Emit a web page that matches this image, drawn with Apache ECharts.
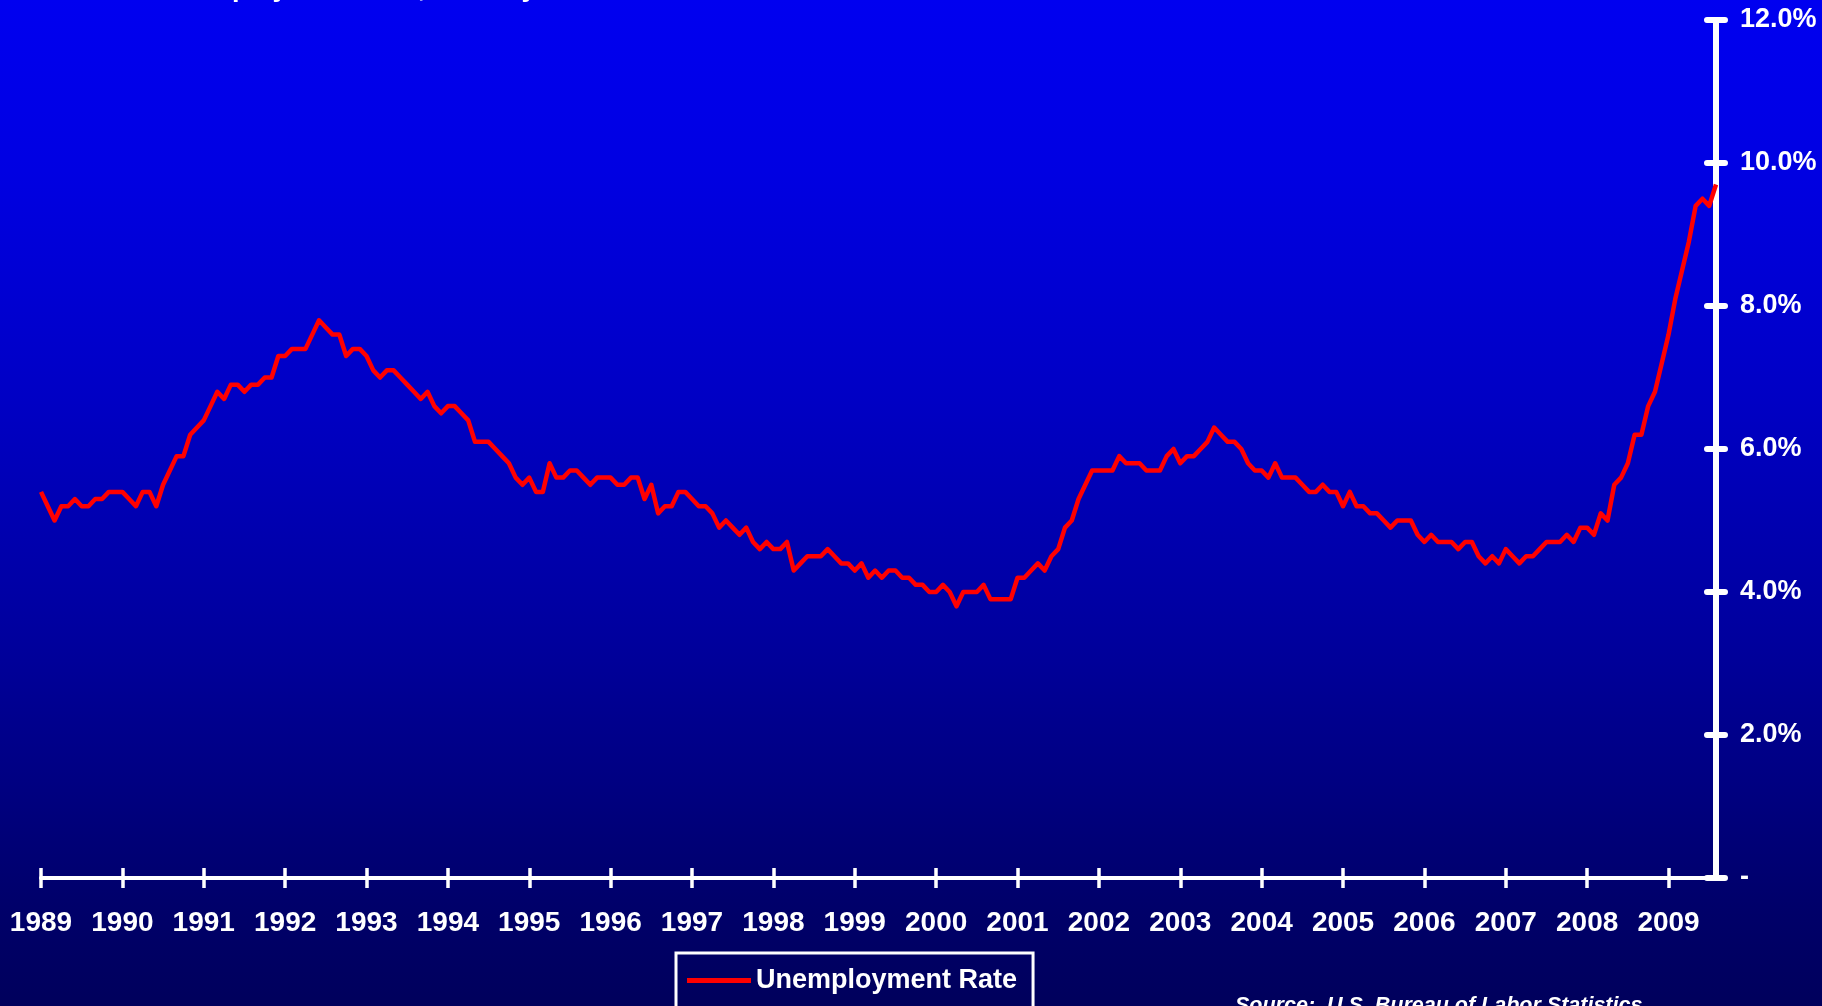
<!DOCTYPE html>
<html>
<head>
<meta charset="utf-8">
<title>Unemployment Rate, Monthly</title>
<script src="https://cdn.jsdelivr.net/npm/echarts@6/dist/echarts.min.js"></script>
<style>
  html, body { margin: 0; padding: 0; width: 1822px; height: 1006px; overflow: hidden; background: #00007a; }
  #chart { width: 1822px; height: 1006px; }
</style>
</head>
<body>
<div id="chart"></div>
<script>
// Monthly unemployment rate (%), January 1989 through August 2009.
const yearLabels = ['1989', '1990', '1991', '1992', '1993', '1994', '1995', '1996', '1997', '1998', '1999',
                    '2000', '2001', '2002', '2003', '2004', '2005', '2006', '2007', '2008', '2009'];
const monthNames = ['Jan', 'Feb', 'Mar', 'Apr', 'May', 'Jun', 'Jul', 'Aug', 'Sep', 'Oct', 'Nov', 'Dec'];

const unemploymentRate = [
  5.4, 5.2, 5.0, 5.2, 5.2, 5.3, 5.2, 5.2, 5.3, 5.3, 5.4, 5.4,   // 1989
  5.4, 5.3, 5.2, 5.4, 5.4, 5.2, 5.5, 5.7, 5.9, 5.9, 6.2, 6.3,   // 1990
  6.4, 6.6, 6.8, 6.7, 6.9, 6.9, 6.8, 6.9, 6.9, 7.0, 7.0, 7.3,   // 1991
  7.3, 7.4, 7.4, 7.4, 7.6, 7.8, 7.7, 7.6, 7.6, 7.3, 7.4, 7.4,   // 1992
  7.3, 7.1, 7.0, 7.1, 7.1, 7.0, 6.9, 6.8, 6.7, 6.8, 6.6, 6.5,   // 1993
  6.6, 6.6, 6.5, 6.4, 6.1, 6.1, 6.1, 6.0, 5.9, 5.8, 5.6, 5.5,   // 1994
  5.6, 5.4, 5.4, 5.8, 5.6, 5.6, 5.7, 5.7, 5.6, 5.5, 5.6, 5.6,   // 1995
  5.6, 5.5, 5.5, 5.6, 5.6, 5.3, 5.5, 5.1, 5.2, 5.2, 5.4, 5.4,   // 1996
  5.3, 5.2, 5.2, 5.1, 4.9, 5.0, 4.9, 4.8, 4.9, 4.7, 4.6, 4.7,   // 1997
  4.6, 4.6, 4.7, 4.3, 4.4, 4.5, 4.5, 4.5, 4.6, 4.5, 4.4, 4.4,   // 1998
  4.3, 4.4, 4.2, 4.3, 4.2, 4.3, 4.3, 4.2, 4.2, 4.1, 4.1, 4.0,   // 1999
  4.0, 4.1, 4.0, 3.8, 4.0, 4.0, 4.0, 4.1, 3.9, 3.9, 3.9, 3.9,   // 2000
  4.2, 4.2, 4.3, 4.4, 4.3, 4.5, 4.6, 4.9, 5.0, 5.3, 5.5, 5.7,   // 2001
  5.7, 5.7, 5.7, 5.9, 5.8, 5.8, 5.8, 5.7, 5.7, 5.7, 5.9, 6.0,   // 2002
  5.8, 5.9, 5.9, 6.0, 6.1, 6.3, 6.2, 6.1, 6.1, 6.0, 5.8, 5.7,   // 2003
  5.7, 5.6, 5.8, 5.6, 5.6, 5.6, 5.5, 5.4, 5.4, 5.5, 5.4, 5.4,   // 2004
  5.2, 5.4, 5.2, 5.2, 5.1, 5.1, 5.0, 4.9, 5.0, 5.0, 5.0, 4.8,   // 2005
  4.7, 4.8, 4.7, 4.7, 4.7, 4.6, 4.7, 4.7, 4.5, 4.4, 4.5, 4.4,   // 2006
  4.6, 4.5, 4.4, 4.5, 4.5, 4.6, 4.7, 4.7, 4.7, 4.8, 4.7, 4.9,   // 2007
  4.9, 4.8, 5.1, 5.0, 5.5, 5.6, 5.8, 6.2, 6.2, 6.6, 6.8, 7.2,   // 2008
  7.6, 8.1, 8.5, 8.9, 9.4, 9.5, 9.4, 9.7                        // 2009
];

const rateTicks = [0, 2, 4, 6, 8, 10, 12];

// One category per month, "Jan 1989" ... "Aug 2009"
const monthCategories = [];
yearLabels.forEach(function (y) {
  monthNames.forEach(function (m) { monthCategories.push(m + ' ' + y); });
});
monthCategories.length = unemploymentRate.length;

const FONT = '"Liberation Sans", Arial, Helvetica, sans-serif';
const WHITE = '#ffffff';

const chart = echarts.init(document.getElementById('chart'), null, { renderer: 'canvas' });

const yearTick = function (idx) { return idx % 12 === 0; };

chart.setOption({
  animation: false,
  backgroundColor: {
    type: 'linear', x: 0, y: 0, x2: 0, y2: 1,
    colorStops: [
      { offset: 0.00, color: 'rgb(0,0,240)' },
      { offset: 0.17, color: 'rgb(0,0,226)' },
      { offset: 0.40, color: 'rgb(0,0,196)' },
      { offset: 0.62, color: 'rgb(0,0,160)' },
      { offset: 0.90, color: 'rgb(0,0,106)' },
      { offset: 1.00, color: 'rgb(0,0,92)' }
    ]
  },
  graphic: [
    {
      type: 'text', x: 157, y: -11, silent: true,
      style: {
        text: 'Unemployment Rate, Monthly',
        font: 'bold 27px ' + FONT, fill: WHITE,
        textAlign: 'left', textVerticalAlign: 'middle'
      }
    },
    {
      type: 'text', x: 1235, y: 1006, silent: true,
      style: {
        text: 'Source:  U.S. Bureau of Labor Statistics',
        font: 'italic bold 21.5px ' + FONT, fill: WHITE,
        textAlign: 'left', textVerticalAlign: 'middle'
      }
    }
  ],
  grid: { left: 41, right: 106, top: 20, bottom: 128, containLabel: false },
  legend: {
    left: 676, top: 953,
    padding: [14, 16, 40, 11],
    borderColor: WHITE, borderWidth: 3, borderRadius: 0,
    icon: 'rect', itemWidth: 64, itemHeight: 5,
    textStyle: { color: WHITE, fontFamily: FONT, fontWeight: 'bold', fontSize: 27 },
    data: ['Unemployment Rate']
  },
  xAxis: [
    {
      type: 'category', data: monthCategories, boundaryGap: false, position: 'bottom',
      axisLine: { show: true, onZero: false, lineStyle: { color: WHITE, width: 4 } },
      axisTick: { show: true, inside: false, length: 10, interval: yearTick,
                  lineStyle: { color: WHITE, width: 3.5 } },
      axisLabel: {
        show: true, interval: yearTick, margin: 31,
        color: WHITE, fontFamily: FONT, fontWeight: 'bold', fontSize: 28,
        formatter: function (v) { return v.slice(-4); }
      },
      splitLine: { show: false }
    },
    {
      // inward half of the crossing year ticks
      type: 'category', data: monthCategories, boundaryGap: false, position: 'bottom',
      axisLine: { show: false, onZero: false },
      axisTick: { show: true, inside: true, length: 10, interval: yearTick,
                  lineStyle: { color: WHITE, width: 3.5 } },
      axisLabel: { show: false },
      splitLine: { show: false }
    }
  ],
  yAxis: [
    {
      type: 'value', position: 'right', min: rateTicks[0], max: rateTicks[rateTicks.length - 1], interval: 2,
      axisLine: { show: true, lineStyle: { color: WHITE, width: 6 } },
      axisTick: { show: true, inside: false, length: 9,
                  lineStyle: { color: WHITE, width: 6, cap: 'round' } },
      axisLabel: {
        show: true, margin: 24,
        color: WHITE, fontFamily: FONT, fontWeight: 'bold', fontSize: 27,
        formatter: function (v) { return v === 0 ? '-' : v.toFixed(1) + '%'; }
      },
      splitLine: { show: false }
    },
    {
      // inward half of the crossing rate ticks
      type: 'value', position: 'right', min: rateTicks[0], max: rateTicks[rateTicks.length - 1], interval: 2,
      axisLine: { show: false },
      axisTick: { show: true, inside: true, length: 9,
                  lineStyle: { color: WHITE, width: 6, cap: 'round' } },
      axisLabel: { show: false },
      splitLine: { show: false }
    }
  ],
  series: [
    {
      name: 'Unemployment Rate',
      type: 'line',
      xAxisIndex: 0, yAxisIndex: 0,
      data: unemploymentRate,
      showSymbol: false, symbol: 'none',
      lineStyle: { color: '#ff0000', width: 4.5, join: 'round' },
      itemStyle: { color: '#ff0000' },
      z: 5
    }
  ]
});
</script>
</body>
</html>
